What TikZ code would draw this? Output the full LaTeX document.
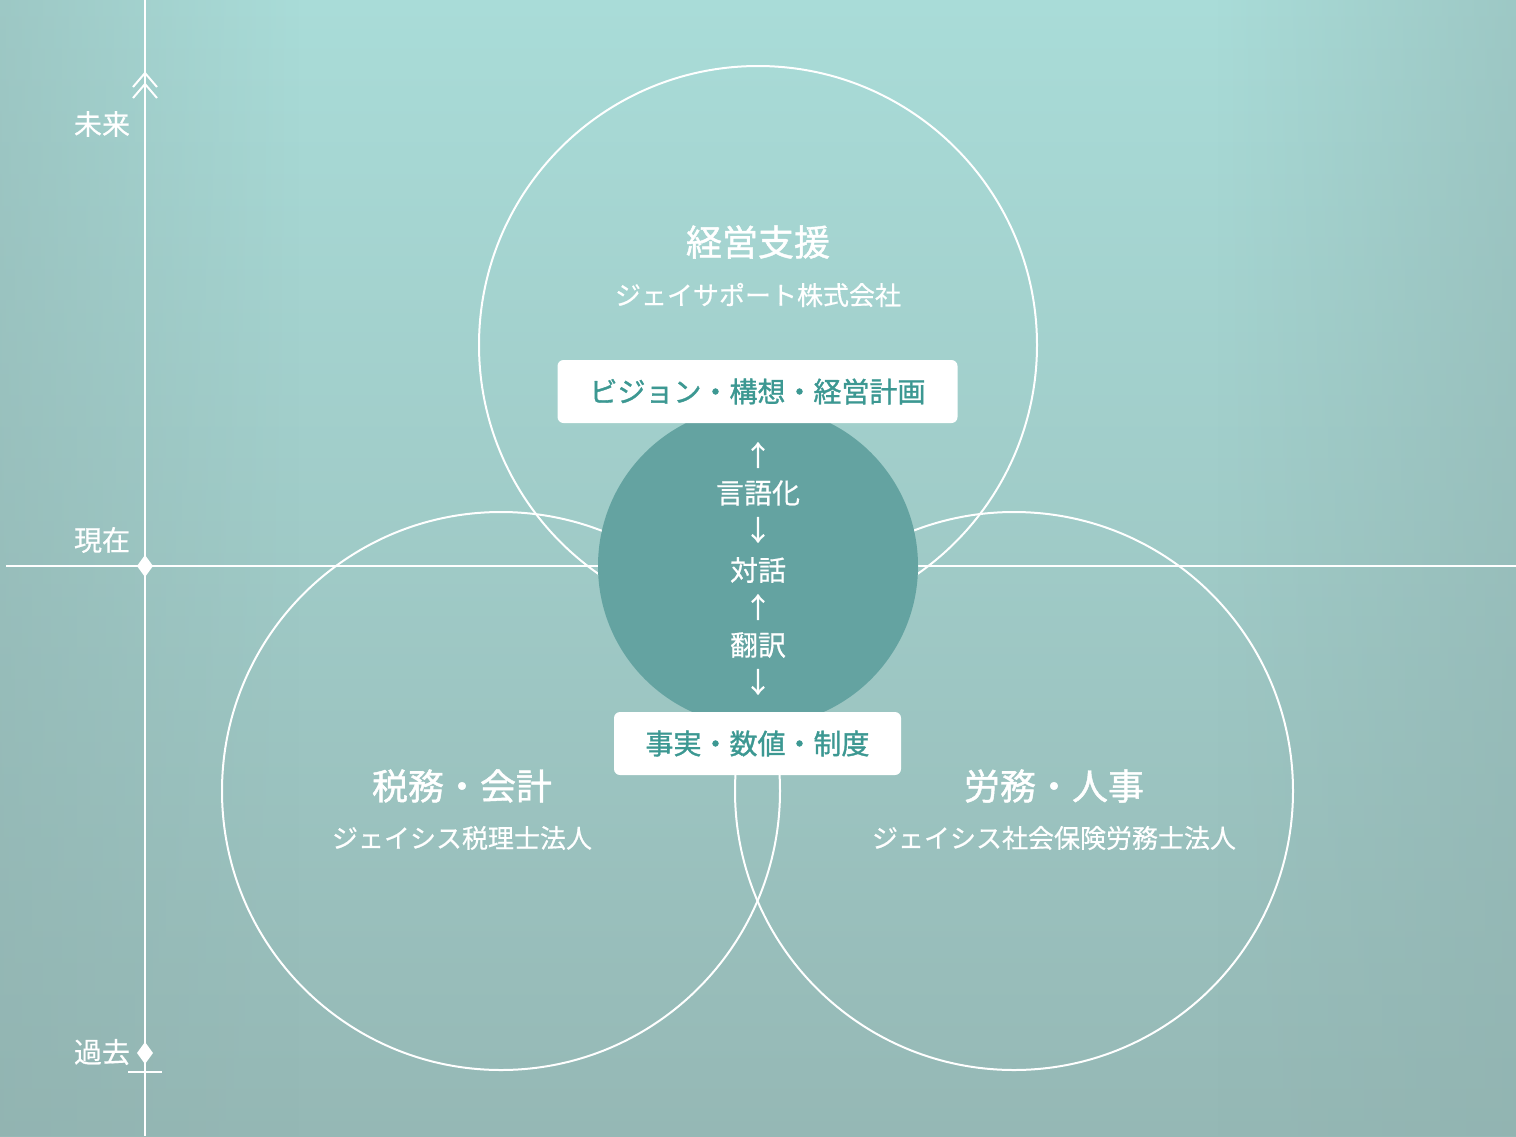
\documentclass[tikz,border=0pt]{standalone}
\usepackage{fontspec}
\setmainfont{Noto Sans CJK JP}
\newfontfamily\jpmed[FakeBold=1.2]{Noto Sans CJK JP}
\newfontfamily\jpsemi[FakeBold=0.5]{Noto Sans CJK JP}
\usetikzlibrary{fadings}
\definecolor{bgtop}{HTML}{A9DCD8}
\definecolor{bgbot}{HTML}{95B8B5}
\definecolor{bgside}{HTML}{8FB0AE}
\definecolor{core}{HTML}{64A3A1}
\definecolor{boxtxt}{HTML}{3C9892}
\tikzset{
  ring/.style={draw=white, line width=1pt},
  axisline/.style={draw=white, line width=1pt},
  title/.style={text=white, font=\jpmed\fontsize{18}{21}\selectfont, inner sep=0pt},
  subtitle/.style={text=white, font=\jpsemi\fontsize{13}{15}\selectfont, inner sep=0pt},
  axislabel/.style={text=white, font=\jpsemi\fontsize{14}{16}\selectfont, inner sep=0pt},
  coretxt/.style={text=white, font=\jpsemi\fontsize{14}{16}\selectfont, inner sep=0pt},
  labelbox/.style={fill=white, rounded corners=3pt, text=boxtxt, font=\jpmed\fontsize{14}{16}\selectfont, inner sep=0pt, anchor=center},
}
\begin{document}
\begin{tikzpicture}[x=0.5pt,y=-0.5pt]
\useasboundingbox (0,0) rectangle (1516,1136);
% background
\shade[top color=bgtop, bottom color=bgbot] (0,0) rectangle (1516,1136);
\fill[bgside, path fading=east, opacity=0.45] (0,0) rectangle (300,1136);
\fill[bgside, path fading=west, opacity=0.45] (1216,0) rectangle (1516,1136);
% axes
\coordinate (vtop) at (145,0);
\coordinate (vbot) at (145,1136);
\coordinate (hl) at (6,566);
\coordinate (hr) at (1516,566);
\draw[axisline] (vtop) -- (vbot);
\draw[axisline] (hl) -- (hr);
% chevrons
\draw[axisline] (133,87) -- (145,73) -- (157,87);
\draw[axisline] (133,98) -- (145,84) -- (157,98);
% diamonds
\fill[white] (145,555) -- (153,566) -- (145,577) -- (137,566) -- cycle;
\fill[white] (145,1042) -- (153,1053) -- (145,1064) -- (137,1053) -- cycle;
\coordinate (tl) at (128,1072);
\coordinate (tr) at (162,1072);
\draw[axisline] (tl) -- (tr);
\node[axislabel] (future) at (102,124) {未来};
\node[axislabel] (now) at (102,540) {現在};
\node[axislabel] (past) at (102,1052) {過去};
% circles
\coordinate (ctop) at (758,345);
\coordinate (cleft) at (501,791);
\coordinate (cright) at (1014,791);
\draw[ring] (ctop) circle[radius=139.5pt];
\draw[ring] (cleft) circle[radius=139.5pt];
\draw[ring] (cright) circle[radius=139.5pt];
% core
\fill[core] (758,566) circle[radius=80pt];
% boxes
\node[labelbox, minimum width=200pt, minimum height=31.5pt] (vision) at (757.5,391.5) {ビジョン・構想・経営計画};
\node[labelbox, minimum width=143.5pt, minimum height=31.5pt] (facts) at (757.5,743.5) {事実・数値・制度};
% core texts
\node[coretxt] (a1) at (758,455) {↑};
\node[coretxt] (t1) at (758,493) {言語化};
\node[coretxt] (a2) at (758,530) {↓};
\node[coretxt] (t2) at (758,570) {対話};
\node[coretxt] (a3) at (758,607) {↑};
\node[coretxt] (t3) at (758,645) {翻訳};
\node[coretxt] (a4) at (758,682) {↓};
% titles
\node[title] (mgmt) at (758,242) {経営支援};
\node[subtitle] (mgmtsub) at (758,295) {ジェイサポート株式会社};
\node[title] (tax) at (462,786) {税務・会計};
\node[subtitle] (taxsub) at (462,838) {ジェイシス税理士法人};
\node[title] (labor) at (1054,786) {労務・人事};
\node[subtitle] (laborsub) at (1054,838) {ジェイシス社会保険労務士法人};
\end{tikzpicture}
\end{document}
